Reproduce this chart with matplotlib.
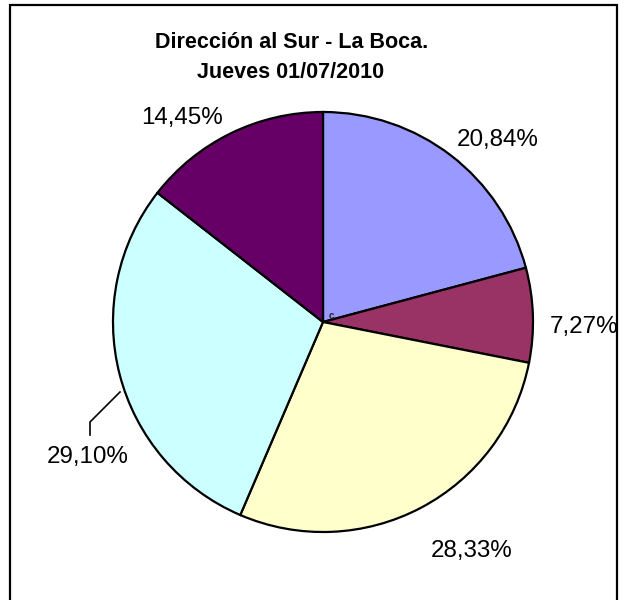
import matplotlib
matplotlib.use("Agg")
import matplotlib.pyplot as plt
from matplotlib.patches import Rectangle

# Shares by direction (percent), clockwise from 12 o'clock
values = [20.84, 7.27, 28.33, 29.10, 14.45]
colors = ["#9999FF", "#993366", "#FFFFCC", "#CCFFFF", "#660066"]
labels = ["20,84%", "7,27%", "28,33%", "29,10%", "14,45%"]
title_lines = ["Dirección al Sur - La Boca.", "Jueves 01/07/2010"]

W, H = 626, 600
FAM = ["Liberation Sans", "DejaVu Sans"]
plt.rcParams["font.family"] = FAM

fig = plt.figure(figsize=(W / 100, H / 100), dpi=100)
ax = fig.add_axes([0, 0, 1, 1])

cx, cy, r = 323, H - 322, 210
ax.pie(values, colors=colors, startangle=90, counterclock=False,
       center=(cx, cy), radius=r, frame=True,
       wedgeprops=dict(edgecolor="black", linewidth=1.6))
ax.set_xlim(0, W)
ax.set_ylim(0, H)
ax.set_aspect("equal")
ax.axis("off")

# Percentage labels
label_pos = [(498, 140), (584, 327), (472, 551), (88, 457), (182, 118)]
for txt, (x, y) in zip(labels, label_pos):
    ax.text(x, H - y, txt, fontsize=17.4, ha="center", va="center",
            color="black", family=FAM, zorder=6)

# Leader line for the 29,10% label
ax.plot([120, 90, 90], [H - 392, H - 422, H - 435], color="black", lw=1.2, zorder=4)

# Tiny mark near the centre
ax.text(331, H - 316, "c", fontsize=7, fontweight="bold", ha="center",
        va="center", family=FAM, color="#222222", zorder=10)

# Title
ax.text(292, H - 42, title_lines[0], fontsize=15.5, fontweight="bold",
        ha="center", va="center", family=FAM)
ax.text(291, H - 72, title_lines[1], fontsize=15.5, fontweight="bold",
        ha="center", va="center", family=FAM)

# Chart frame (open at the bottom edge of the image)
ax.add_patch(Rectangle((9.5, -20), 607, H - 4.5 + 20, fill=False,
                       edgecolor="black", linewidth=1.6, zorder=3))

fig.savefig("out.png", dpi=100, facecolor="white")
